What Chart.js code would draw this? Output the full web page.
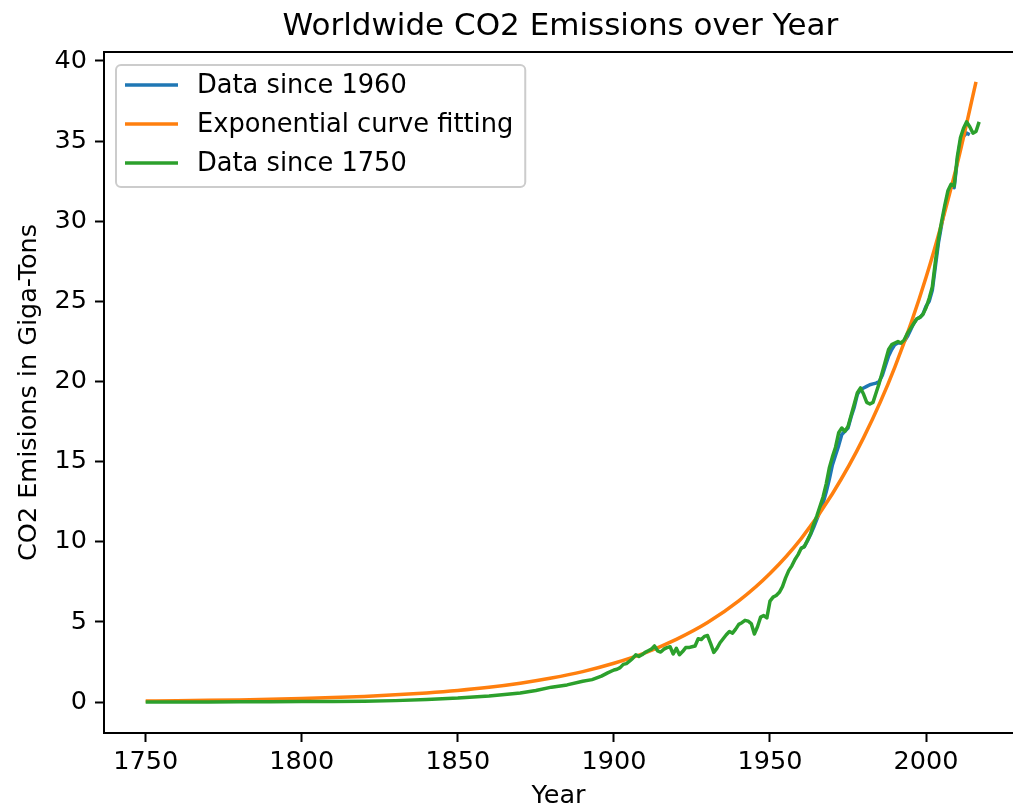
<!DOCTYPE html>
<html>
<head>
<meta charset="utf-8">
<title>Worldwide CO2 Emissions over Year</title>
<script src="https://cdn.jsdelivr.net/npm/chart.js@4.4.1/dist/chart.umd.min.js"></script>
<style>
  html, body { margin: 0; padding: 0; background: #ffffff; overflow: hidden; width: 1013px; height: 808px; }
  canvas { display: block; }
</style>
</head>
<body>
<canvas id="chart" width="1013" height="816"></canvas>
<script>
// Global CO2 emissions (Gt), long record since 1750
const histYears = [
  1750, 1760, 1770, 1780, 1790, 1800, 1810, 1820, 1830, 1840, 1850, 1855, 1860, 1865, 1870, 1875,
  1880, 1885, 1890, 1893, 1896, 1898, 1900,
  1901, 1902, 1903, 1904, 1905, 1906, 1907, 1908, 1909, 1910, 1911, 1912, 1913, 1914, 1915, 1916, 1917,
  1918, 1919, 1920, 1921, 1922, 1923, 1924, 1925, 1926, 1927, 1928, 1929, 1930,
  1931, 1932, 1933, 1934, 1935, 1936, 1937, 1938, 1939, 1940, 1941, 1942, 1943, 1944, 1945, 1946, 1947, 1948, 1949,
  1950, 1951, 1952, 1953, 1954, 1955, 1956, 1957, 1958, 1959, 1960, 1961, 1962, 1963, 1964, 1965, 1966, 1967, 1968,
  1969, 1970, 1971, 1972, 1973, 1974, 1975, 1976, 1977, 1978, 1979, 1980, 1981, 1982, 1983, 1984, 1985,
  1986, 1987, 1988, 1989, 1990, 1991, 1992, 1993, 1994, 1995, 1996, 1997, 1998, 1999, 2000, 2001,
  2002, 2003, 2004, 2005, 2006, 2007, 2008, 2009, 2010, 2011, 2012, 2013, 2014, 2015, 2016, 2017
];
const histCO2 = [
  0.01, 0.01, 0.01, 0.015, 0.02, 0.03, 0.04, 0.05, 0.09, 0.16, 0.25, 0.32, 0.38, 0.47, 0.57, 0.72,
  0.93, 1.07, 1.30, 1.40, 1.62, 1.82, 2.00,
  2.05, 2.15, 2.35, 2.40, 2.55, 2.72, 2.95, 2.85, 2.95, 3.10, 3.20, 3.30, 3.50, 3.20, 3.12, 3.30, 3.40,
  3.45, 3.00, 3.35, 2.95, 3.15, 3.40, 3.40, 3.45, 3.50, 3.95, 3.90, 4.10, 4.15,
  3.65, 3.10, 3.35, 3.70, 3.95, 4.20, 4.40, 4.30, 4.55, 4.85, 4.95, 5.10, 5.05, 4.90, 4.25, 4.70, 5.30, 5.40, 5.25,
  6.30, 6.55, 6.65, 6.85, 7.20, 7.75, 8.20, 8.50, 8.90, 9.20, 9.60, 9.70, 10.1, 10.5, 11.1, 11.6, 12.2, 12.8, 13.6,
  14.6, 15.3, 15.9, 16.8, 17.1, 16.9, 17.2, 17.9, 18.6, 19.3, 19.6, 19.2, 18.7, 18.6, 18.7, 19.3, 19.9,
  20.6, 21.3, 22.0, 22.3, 22.4, 22.5, 22.4, 22.6, 23.0, 23.3, 23.6, 23.9, 24.0, 24.2, 24.6, 25.2,
  25.9, 27.5, 28.9, 30.0, 31.0, 31.9, 32.3, 32.2, 34.0, 35.2, 35.8, 36.2, 35.9, 35.5, 35.6, 36.2
];

// Shorter record starting in 1960 (Gt)
const recentYears = [
  1960, 1961, 1962, 1963, 1964, 1965, 1966, 1967, 1968, 1969,
  1970, 1971, 1972, 1973, 1974, 1975, 1976, 1977, 1978, 1979,
  1980, 1981, 1982, 1983, 1984, 1985, 1986, 1987, 1988, 1989,
  1990, 1991, 1992, 1993, 1994, 1995, 1996, 1997, 1998, 1999,
  2000, 2001, 2002, 2003, 2004, 2005, 2006, 2007, 2008, 2009,
  2010, 2011, 2012, 2013, 2014
];
const recentCO2 = [
  9.6, 9.7, 10.05, 10.45, 10.9, 11.4, 11.9, 12.4, 13.1, 13.9,
  14.8, 15.4, 16.0, 16.7, 16.9, 17.1, 17.8, 18.4, 19.2, 19.5,
  19.6, 19.7, 19.8, 19.85, 19.9, 20.0, 20.4, 21.0, 21.6, 22.0,
  22.3, 22.4, 22.4, 22.5, 22.8, 23.2, 23.6, 23.9, 24.0, 24.2,
  24.7, 25.0, 25.7, 27.2, 28.7, 29.8, 30.8, 31.7, 32.2, 32.1,
  33.8, 35.0, 35.3, 35.5, 35.4
];

// Fitted exponential trend (Gt)
const fitYears = [
  1750, 1760, 1770, 1780, 1790, 1800, 1810, 1820, 1830, 1840, 1850, 1860, 1870, 1880,
  1890, 1900, 1910, 1920, 1930, 1940, 1950, 1960, 1970, 1980, 1990, 2000, 2010, 2016
];
const fitCO2 = [
  0.066, 0.084, 0.107, 0.136, 0.173, 0.219, 0.279, 0.355, 0.451, 0.573, 0.728, 0.926, 1.18, 1.50,
  1.90, 2.42, 3.07, 3.91, 4.96, 6.31, 8.02, 10.2, 13.0, 16.5, 20.9, 26.5, 33.6, 38.7
];

const seriesLabels = ['Data since 1960', 'Exponential curve fitting', 'Data since 1750'];
const xTickValues = [1750, 1800, 1850, 1900, 1950, 2000];
const yTickValues = [0, 5, 10, 15, 20, 25, 30, 35, 40];

const chartTitle = 'Worldwide CO2 Emissions over Year';
const xAxisTitle = 'Year';
const yAxisTitle = 'CO2 Emisions in Giga-Tons';

const FONT = '"DejaVu Sans", "Liberation Sans", sans-serif';
const toPoints = (xs, ys) => xs.map((x, i) => ({ x: x, y: ys[i] }));

Chart.defaults.font.family = FONT;
Chart.defaults.color = '#000000';

// Title centred over the plot area, plus the top frame line
const framePlugin = {
  id: 'frameAndTitle',
  afterDraw(chart) {
    const { ctx, chartArea: a } = chart;
    ctx.save();
    ctx.strokeStyle = '#000000';
    ctx.lineWidth = 2;
    ctx.beginPath();
    ctx.moveTo(a.left - 1, a.top);
    ctx.lineTo(a.right + 10, a.top);
    ctx.stroke();
    ctx.fillStyle = '#000000';
    ctx.font = '31px ' + FONT;
    ctx.textAlign = 'center';
    ctx.textBaseline = 'alphabetic';
    const axesRight = a.left + (2030.35 - 1736.65) * (a.right - a.left) / (chart.scales.x.max - chart.scales.x.min);
    ctx.fillText(chartTitle, (a.left + axesRight) / 2 - 2, a.top - 17);
    ctx.restore();
  }
};

// Framed legend in the upper-left corner of the plot area
const insideLegend = {
  id: 'insideLegend',
  afterDraw(chart) {
    const { ctx, chartArea: a } = chart;
    const sets = chart.data.datasets;
    ctx.save();
    ctx.font = '25.7px ' + FONT;
    let textW = 0;
    sets.forEach(d => { textW = Math.max(textW, ctx.measureText(d.label).width); });
    const bx = a.left + 12, by = a.top + 13;
    const bw = 81 + textW + 12, bh = 122;
    ctx.beginPath();
    ctx.roundRect(bx, by, bw, bh, 5);
    ctx.fillStyle = 'rgba(255,255,255,0.8)';
    ctx.fill();
    ctx.strokeStyle = '#cccccc';
    ctx.lineWidth = 2;
    ctx.stroke();
    const rows = [20, 59, 98];
    sets.forEach((d, i) => {
      const y = by + rows[i];
      ctx.strokeStyle = d.borderColor;
      ctx.lineWidth = 3.5;
      ctx.beginPath();
      ctx.moveTo(bx + 9, y);
      ctx.lineTo(bx + 62, y);
      ctx.stroke();
      ctx.fillStyle = '#000000';
      ctx.textAlign = 'left';
      ctx.textBaseline = 'middle';
      ctx.fillText(d.label, bx + 81, y + 1);
    });
    ctx.restore();
  }
};

const axisCommon = {
  grid: { drawOnChartArea: false, drawTicks: true, tickLength: 9, tickWidth: 2, color: '#000000' },
  border: { display: true, color: '#000000', width: 2 }
};

new Chart(document.getElementById('chart'), {
  type: 'line',
  data: {
    datasets: [
      { label: seriesLabels[0], data: toPoints(recentYears, recentCO2), borderColor: '#1f77b4', order: 3 },
      { label: seriesLabels[1], data: toPoints(fitYears, fitCO2), borderColor: '#ff7f0e', order: 2, cubicInterpolationMode: 'monotone' },
      { label: seriesLabels[2], data: toPoints(histYears, histCO2), borderColor: '#2ca02c', order: 1 }
    ]
  },
  options: {
    responsive: false,
    animation: false,
    devicePixelRatio: 1,
    layout: { padding: { top: 52, right: 0, left: 0, bottom: 0 } },
    elements: {
      point: { radius: 0 },
      line: { borderWidth: 3.5, tension: 0, fill: false, borderJoinStyle: 'round', borderCapStyle: 'butt' }
    },
    plugins: { legend: { display: false }, tooltip: { enabled: false }, title: { display: false } },
    scales: {
      x: {
        type: 'linear',
        min: 1736.65,
        max: 2027.85,
        ...axisCommon,
        afterBuildTicks: s => { s.ticks = xTickValues.map(v => ({ value: v })); },
        afterFit: s => { s.height = 83; },
        ticks: { font: { size: 25.5 }, color: '#000000', padding: 5, maxRotation: 0, autoSkip: false, callback: v => String(v) },
        title: { display: true, text: xAxisTitle, font: { size: 25.5 }, color: '#000000', padding: { top: 0, bottom: 4 } }
      },
      y: {
        type: 'linear',
        min: -1.93,
        max: 40.56,
        ...axisCommon,
        afterBuildTicks: s => { s.ticks = yTickValues.map(v => ({ value: v })); },
        afterFit: s => { s.width = 104; },
        ticks: { font: { size: 25.5 }, color: '#000000', padding: 8, callback: v => String(v) },
        title: { display: true, text: yAxisTitle, font: { size: 25.5 }, color: '#000000', padding: { top: 14, bottom: 0 } }
      }
    }
  },
  plugins: [framePlugin, insideLegend]
});
</script>
</body>
</html>
